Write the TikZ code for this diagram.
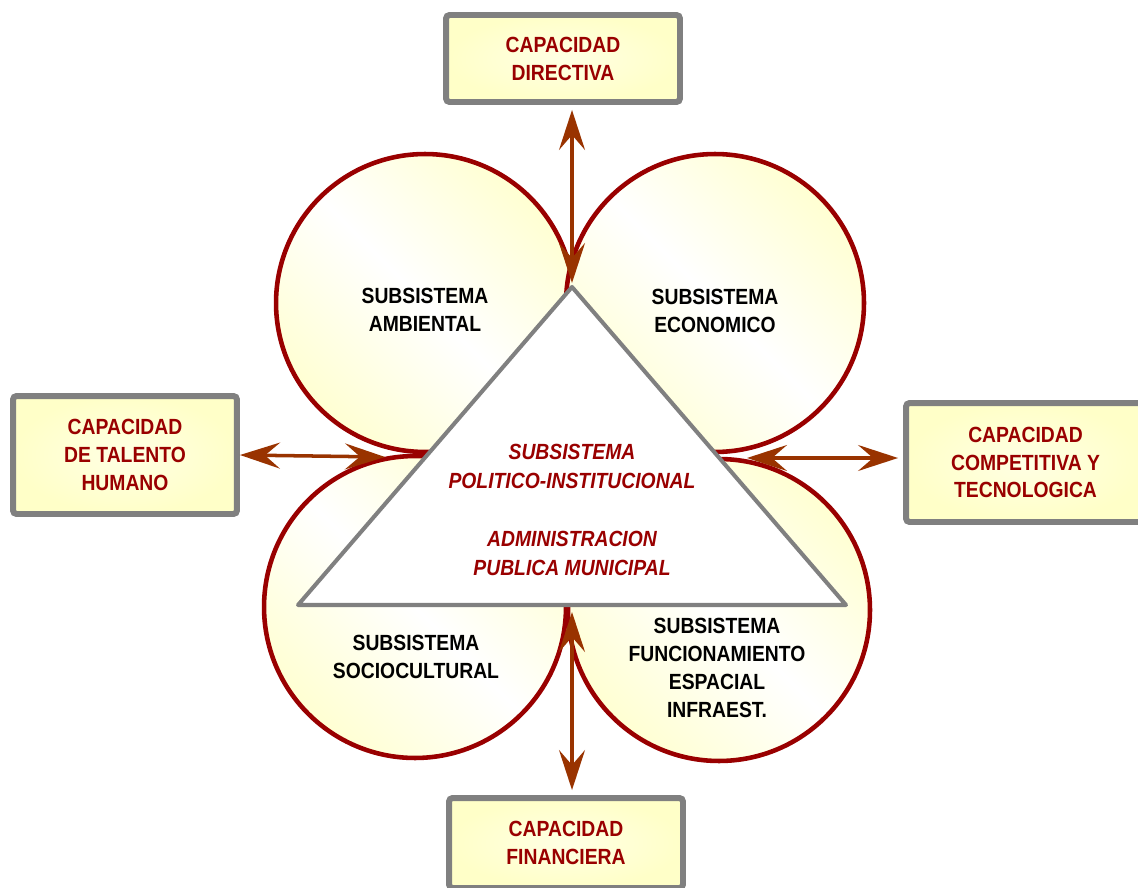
\documentclass[tikz,border=0pt]{standalone}
\usepackage{fontspec}
\setmainfont[FakeStretch=0.88]{Liberation Sans}
\usetikzlibrary{arrows.meta, calc}
\definecolor{cred}{HTML}{990000}
\definecolor{cbrown}{HTML}{993300}
\definecolor{cgrey}{HTML}{808080}
\definecolor{cyellow}{HTML}{FFFFC8}
\definecolor{cpale}{HTML}{FFFFD2}
\newcommand{\lblfont}{\fontsize{12.5}{15.9}\selectfont\bfseries}
\tikzset{
  subcircle/.style={circle, draw=cred, line width=2.6pt, top color=cpale, bottom color=cpale, middle color=white, shading angle=-45, minimum size=#1, inner sep=0pt},
  subcircle/.default=5.96cm,
  capbox/.style={draw=cgrey, line width=3.4pt, rounded corners=2pt, inner color=white!50!cyellow, outer color=cyellow, text=cred, font=\lblfont, align=center, inner sep=0pt},
  sublabel/.style={font=\lblfont, align=center},
  trilabel/.style={font=\fontsize{12.5}{16.6}\selectfont\bfseries\itshape, text=cred, align=center},
  arrow/.style={{Stealth[length=0.8cm, width=0.52cm, inset=0.3cm]}-{Stealth[length=0.8cm, width=0.52cm, inset=0.3cm]}, draw=cbrown, line width=2pt},
}

\begin{document}
\begin{tikzpicture}[x=0.02cm, y=-0.02cm]
  \useasboundingbox (0,0) rectangle (1138,888);
  % the four subsystems
  \node[subcircle] (amb) at (425,303) {};
  \node[subcircle] (eco) at (715,303) {};
  \node[subcircle=6.04cm] (soc) at (415,607) {};
  \node[subcircle=6.04cm] (fun) at (719,610) {};
  % central triangle
  \coordinate (apex) at (572,287);
  \coordinate (bl) at (298,605);
  \coordinate (br) at (846,605);
  \draw[cgrey, fill=white, line width=2.3pt, line join=round] (apex) -- (bl) -- (br) -- cycle;
  \node[trilabel] (pol) at (572,510) {SUBSISTEMA\\POLITICO-INSTITUCIONAL\\[0.5\baselineskip]\\[-0.5\baselineskip]ADMINISTRACION\\PUBLICA MUNICIPAL};
  \node[sublabel] (lamb) at (425,310) {SUBSISTEMA\\AMBIENTAL};
  \node[sublabel] (leco) at (715,311) {SUBSISTEMA\\ECONOMICO};
  \node[sublabel] (lsoc) at (416,657) {SUBSISTEMA\\SOCIOCULTURAL};
  \node[sublabel] (lfun) at (717,668) {SUBSISTEMA\\FUNCIONAMIENTO\\ESPACIAL\\INFRAEST.};
  % capacities
  \node[capbox, minimum width=4.68cm, minimum height=1.74cm] (dir) at (563,58.5) {CAPACIDAD\\DIRECTIVA};
  \node[capbox, minimum width=4.48cm, minimum height=2.36cm] (tal) at (125,455) {CAPACIDAD\\DE TALENTO\\HUMANO};
  \node[capbox, minimum width=4.78cm, minimum height=2.38cm] (comp) at (1025.5,462.5) {CAPACIDAD\\COMPETITIVA Y\\TECNOLOGICA};
  \node[capbox, minimum width=4.68cm, minimum height=1.8cm] (fin) at (566,843) {CAPACIDAD\\FINANCIERA};
  % links
  \coordinate (ctop) at (572,283);
  \coordinate (cleft) at (385,457);
  \coordinate (cright) at (747,458);
  \coordinate (cbot) at (572,612);
  \draw[arrow, shorten <=0.1cm] (dir.south -| ctop) -- (ctop);
  \draw[arrow] (tal.east) -- (cleft);
  \draw[arrow, shorten >=0.1cm] (cright) -- (cright -| comp.west);
  \draw[arrow, shorten >=0.1cm] (cbot) -- (cbot |- fin.north);
\end{tikzpicture}
\end{document}
